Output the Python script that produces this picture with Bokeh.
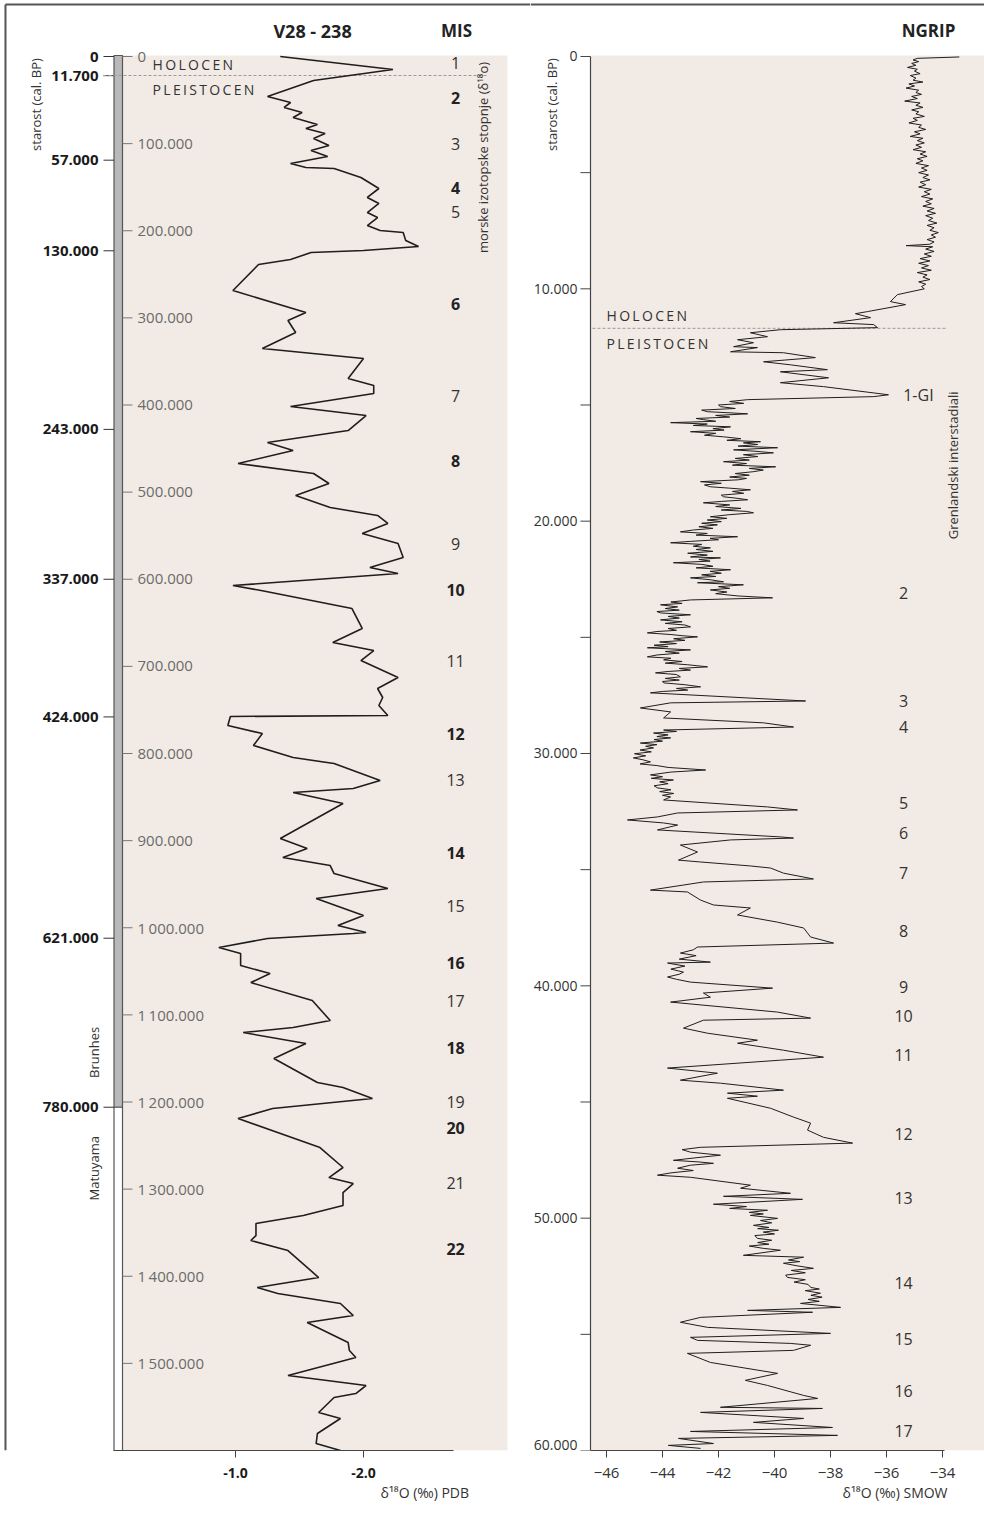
import math
from bokeh.plotting import figure
from bokeh.models import Range1d, FixedTicker, Title, NumeralTickFormatter
from bokeh.layouts import row
from bokeh.embed import file_html
from bokeh.resources import INLINE
from bokeh.core.properties import value

# ---------------- data: V28-238 (depth scale in thousands, delta18O PDB) ----------------
v28_depth_k = [0.0, 14.9, 27.5, 45.9, 52.8, 58.5, 64.3, 70.0, 78.1, 82.6, 88.4, 94.1, 102.2, 107.9,
               114.8, 122.8, 127.4, 128.6, 138.9, 151.5, 161.8, 168.7, 179.1, 184.8, 194.0, 199.7,
               202.0, 211.2, 218.1, 222.7, 225.0, 233.0, 238.7, 268.6, 293.8, 303.0, 316.8, 335.2,
               346.6, 369.6, 377.6, 386.8, 401.7, 412.1, 429.3, 443.1, 452.2, 467.2, 478.6, 490.1,
               503.9, 517.7, 526.8, 536.0, 547.5, 559.0, 575.0, 586.5, 593.4, 607.2, 612.9, 633.6,
               656.5, 672.6, 681.8, 693.3, 712.8, 725.4, 735.7, 744.9, 756.4, 757.5, 767.9, 777.1,
               790.8, 804.6, 811.5, 831.0, 840.2, 844.8, 857.4, 897.6, 909.1, 919.4, 928.6, 937.8,
               955.0, 966.4, 986.0, 997.4, 1005.5, 1006.6, 1012.4, 1022.7, 1029.6, 1043.4, 1052.5,
               1062.9, 1083.5, 1106.5, 1114.5, 1120.3, 1132.9, 1150.1, 1177.6, 1183.4, 1196.0,
               1207.5, 1219.0, 1252.3, 1275.2, 1286.7, 1293.6, 1303.9, 1318.8, 1330.3, 1339.5,
               1353.3, 1359.0, 1370.5, 1401.5, 1412.9, 1419.8, 1431.3, 1445.1, 1453.1, 1476.1,
               1485.3, 1493.3, 1514.0, 1525.4, 1534.6, 1539.2, 1556.4, 1563.3, 1580.5, 1592.0, 1600.0]
v28_d18o = [-1.35, -2.23, -1.61, -1.25, -1.43, -1.38, -1.52, -1.45, -1.64, -1.55, -1.70, -1.61, -1.73, -1.59,
            -1.72, -1.43, -1.55, -1.77, -1.98, -2.12, -2.03, -2.12, -2.03, -2.11, -2.03, -2.13,
            -2.31, -2.33, -2.43, -2.00, -1.59, -1.43, -1.18, -0.98, -1.55, -1.41, -1.47, -1.21,
            -2.00, -1.88, -2.08, -2.08, -1.43, -2.02, -1.88, -1.25, -1.45, -1.02, -1.61, -1.73,
            -1.47, -1.74, -2.11, -2.19, -1.99, -2.27, -2.31, -2.05, -2.27, -0.98, -1.20, -1.91,
            -1.99, -1.76, -2.08, -1.98, -2.27, -2.11, -2.15, -2.12, -2.19, -0.96, -0.94, -1.21,
            -1.14, -1.45, -1.77, -2.13, -1.92, -1.45, -1.84, -1.35, -1.56, -1.37, -1.74, -1.77,
            -2.19, -1.63, -2.00, -1.80, -2.02, -1.92, -1.25, -0.87, -1.04, -1.04, -1.27,
            -1.12, -1.60, -1.74, -1.45, -1.06, -1.55, -1.30, -1.64, -1.84, -2.07,
            -1.29, -1.02, -1.66, -1.84, -1.73, -1.92, -1.84, -1.84, -1.53, -1.16,
            -1.16, -1.12, -1.41, -1.65, -1.17, -1.33, -1.82, -1.92, -1.56, -1.88,
            -1.89, -1.94, -1.41, -2.02, -1.94, -1.77, -1.65, -1.82, -1.64, -1.63, -1.82]

mis_stage = list(range(1, 23))
mis_depth_k = [6.9, 48.2, 101.0, 150.4, 179.0, 283.5, 389.1, 463.7, 559.0, 612.9, 693.3, 777.1,
               829.9, 913.7, 974.5, 1039.9, 1083.5, 1137.5, 1199.5, 1230.4, 1292.4, 1368.2]

# age (cal. BP) markers placed on the depth scale
age_tick_depth_k = [0, 22, 119, 223, 428, 600, 758, 1012, 1206]
age_tick_labels = ["0", "11.700", "57.000", "130.000", "243.000", "337.000", "424.000", "621.000", "780.000"]
holocene_depth_k = 21.8
brunhes_end_depth_k = 1206
brunhes_mid_depth_k = 1143
matuyama_mid_depth_k = 1276

depth_ticks_k = [0, 100, 200, 300, 400, 500, 600, 700, 800, 900, 1000, 1100, 1200, 1300, 1400, 1500]
depth_tick_labels = ["0", "100.000", "200.000", "300.000", "400.000", "500.000", "600.000", "700.000",
                     "800.000", "900.000", "1\u2009000.000", "1\u2009100.000", "1\u2009200.000",
                     "1\u2009300.000", "1\u2009400.000", "1\u2009500.000"]
pdb_ticks = [-1.0, -2.0]

# ---------------- data: NGRIP (age in kyr, delta18O SMOW), read in segments ----------------
ngrip_holocene = [
    (0.02, -33.40), (0.08, -34.90), (0.15, -35.05), (0.22, -34.85), (0.30, -35.10), (0.38, -34.95),
    (0.47, -35.25), (0.55, -34.90), (0.63, -35.00), (0.74, -34.80), (0.82, -35.15), (0.93, -34.95),
    (1.02, -35.05), (1.10, -34.70), (1.18, -35.20), (1.27, -35.00), (1.36, -35.30), (1.45, -34.85),
    (1.55, -34.95), (1.63, -34.75), (1.72, -35.10), (1.81, -34.90), (1.92, -35.35), (2.00, -34.80),
    (2.10, -34.95), (2.19, -34.70), (2.30, -35.10), (2.38, -34.85), (2.47, -34.95), (2.58, -34.65),
    (2.66, -35.05), (2.75, -34.90), (2.86, -35.20), (2.95, -34.75), (3.05, -34.85), (3.14, -34.60),
    (3.24, -35.00), (3.33, -34.80), (3.44, -35.15), (3.52, -34.70), (3.62, -34.90), (3.72, -34.65),
    (3.81, -34.95), (3.91, -34.75), (4.01, -35.05), (4.10, -34.60), (4.20, -34.80), (4.30, -34.55),
    (4.40, -34.90), (4.49, -34.70), (4.60, -34.95), (4.70, -34.50), (4.80, -34.75), (4.90, -34.55),
    (5.00, -34.85), (5.10, -34.50), (5.21, -34.70), (5.31, -34.45), (5.41, -34.80), (5.52, -34.60),
    (5.62, -34.85), (5.72, -34.40), (5.82, -34.65), (5.92, -34.45), (6.03, -34.75), (6.13, -34.35),
    (6.24, -34.60), (6.34, -34.40), (6.44, -34.70), (6.54, -34.30), (6.65, -34.55), (6.75, -34.25),
    (6.85, -34.60), (6.96, -34.35), (7.06, -34.50), (7.17, -34.20), (7.27, -34.55), (7.37, -34.30),
    (7.48, -34.45), (7.58, -34.15), (7.68, -34.40), (7.78, -34.25), (7.88, -34.55), (7.98, -34.30),
    (8.08, -34.45), (8.14, -35.30), (8.19, -34.35), (8.29, -34.60), (8.39, -34.30), (8.50, -34.65),
    (8.60, -34.40), (8.70, -34.80), (8.80, -34.45), (8.90, -34.85), (9.00, -34.50), (9.10, -34.75),
    (9.20, -34.40), (9.30, -34.90), (9.40, -34.55), (9.50, -34.70), (9.60, -34.45), (9.70, -34.85),
    (9.80, -34.60), (9.90, -34.75), (10.00, -34.65)]
ngrip_deglacial = [
    (10.25, -35.61), (10.55, -35.86), (10.68, -35.32), (10.98, -36.68), (11.07, -37.11), (11.24, -36.57),
    (11.46, -37.89), (11.54, -36.46), (11.67, -36.32), (11.76, -39.79), (11.89, -40.86), (12.06, -40.25),
    (12.19, -41.32), (12.32, -40.75), (12.49, -41.46), (12.53, -40.61), (12.71, -41.57), (12.75, -39.68),
    (12.96, -38.54), (13.14, -40.39), (13.27, -39.43), (13.48, -38.11), (13.57, -39.79), (13.83, -38.07),
    (14.04, -39.79), (14.21, -38.25), (14.56, -35.93), (14.64, -36.46)]
ngrip_lgm = [
    (14.77, -40.96), (14.85, -41.60), (14.93, -41.10), (15.00, -42.00), (15.07, -41.93), (15.15, -41.40),
    (15.22, -42.60), (15.29, -42.39), (15.33, -41.70), (15.38, -40.96), (15.45, -42.10), (15.52, -41.60),
    (15.58, -42.80), (15.63, -42.54), (15.70, -42.10), (15.76, -43.71), (15.82, -42.40), (15.88, -42.90),
    (15.94, -41.57), (16.02, -42.20), (16.08, -41.80), (16.15, -43.00), (16.22, -42.10), (16.30, -42.50),
    (16.37, -41.82), (16.45, -41.20), (16.52, -41.70), (16.58, -40.50), (16.63, -41.11), (16.70, -40.60),
    (16.77, -41.30), (16.84, -39.89), (16.93, -41.46), (16.99, -40.70), (17.06, -40.04), (17.14, -41.11),
    (17.22, -40.60), (17.30, -41.40), (17.37, -40.90), (17.44, -41.82), (17.52, -41.00), (17.59, -41.50),
    (17.66, -39.96), (17.73, -40.90), (17.80, -40.40), (17.87, -40.75), (17.95, -41.40), (18.02, -40.90),
    (18.10, -41.60), (18.16, -41.00), (18.22, -41.29), (18.30, -42.64), (18.37, -41.90), (18.44, -42.50),
    (18.52, -42.29), (18.58, -41.60), (18.65, -40.86), (18.72, -41.50), (18.80, -41.10), (18.88, -41.90),
    (18.95, -41.82), (19.02, -41.30), (19.08, -40.96), (19.15, -41.90), (19.21, -42.54), (19.30, -41.60),
    (19.37, -42.10), (19.45, -41.20), (19.52, -41.90), (19.58, -41.00), (19.64, -40.75), (19.72, -41.60),
    (19.81, -42.29), (19.88, -41.70), (19.95, -42.40), (20.02, -41.90), (20.09, -42.60), (20.16, -42.04),
    (20.24, -42.70), (20.31, -42.20), (20.38, -42.90), (20.46, -43.36), (20.53, -42.40), (20.60, -42.80),
    (20.67, -41.32), (20.74, -42.30), (20.80, -42.00), (20.87, -43.00), (20.93, -43.71), (21.00, -42.60),
    (21.08, -42.90), (21.15, -42.29), (21.22, -42.80), (21.30, -42.20), (21.38, -43.10), (21.46, -42.40),
    (21.54, -43.00), (21.58, -41.93), (21.65, -42.70), (21.72, -42.30), (21.79, -43.61), (21.86, -42.60),
    (21.94, -42.20), (22.01, -42.80), (22.09, -41.57), (22.16, -42.30), (22.24, -41.90), (22.31, -42.60),
    (22.38, -42.10), (22.44, -43.00), (22.52, -42.30), (22.61, -41.82), (22.65, -42.75), (22.74, -41.11),
    (22.82, -42.00), (22.89, -41.60), (22.96, -42.29), (23.05, -41.70), (23.12, -42.10), (23.22, -41.30),
    (23.30, -40.07), (23.39, -43.00)]
ngrip_gs3 = [
    (23.48, -43.70), (23.54, -43.30), (23.60, -44.07), (23.69, -43.46), (23.76, -43.90), (23.83, -43.40),
    (23.89, -44.20), (23.95, -44.07), (24.03, -43.00), (24.10, -43.80), (24.17, -43.40), (24.25, -44.07),
    (24.33, -43.30), (24.40, -43.90), (24.47, -43.20), (24.55, -43.00), (24.62, -43.80), (24.70, -43.50),
    (24.75, -44.20), (24.81, -44.54), (24.88, -43.70), (24.93, -43.30), (24.98, -42.75), (25.06, -43.60),
    (25.13, -43.20), (25.20, -44.10), (25.27, -43.50), (25.34, -44.30), (25.40, -43.80), (25.45, -44.54),
    (25.54, -43.00), (25.61, -43.90), (25.68, -43.40), (25.76, -44.20), (25.84, -44.54), (25.90, -43.70),
    (25.97, -43.96), (26.04, -43.30), (26.11, -43.90), (26.18, -43.10), (26.27, -42.39), (26.34, -43.40),
    (26.41, -43.00), (26.47, -43.80), (26.53, -44.25), (26.60, -43.50), (26.70, -43.36), (26.77, -43.90),
    (26.84, -43.40), (26.90, -44.00), (26.96, -43.96), (27.04, -43.20), (27.13, -42.64), (27.20, -43.50),
    (27.27, -43.10), (27.33, -44.00), (27.39, -44.43)]
ngrip_gi3_gi5 = [
    (27.74, -38.89), (27.82, -43.71), (28.04, -44.79), (28.21, -43.71), (28.47, -43.96), (28.68, -40.39),
    (28.86, -39.32), (28.99, -43.96), (29.05, -43.50), (29.12, -44.32), (29.20, -43.80), (29.27, -44.20),
    (29.33, -43.71), (29.40, -44.30), (29.47, -44.00), (29.55, -44.79), (29.62, -44.20), (29.69, -44.60),
    (29.76, -44.32), (29.85, -44.80), (29.93, -44.40), (30.01, -45.00), (30.10, -44.60), (30.19, -45.04),
    (30.27, -44.70), (30.36, -44.43), (30.45, -44.80), (30.52, -44.20), (30.60, -43.80), (30.71, -42.46),
    (30.80, -43.70), (30.92, -44.43), (31.00, -44.00), (31.07, -44.40), (31.14, -43.61), (31.22, -44.10),
    (31.30, -43.80), (31.39, -44.30), (31.48, -44.18), (31.56, -43.70), (31.64, -44.10), (31.72, -43.60),
    (31.80, -44.00), (31.87, -43.71), (32.00, -43.96)]
ngrip_gi5_gi9 = [
    (32.30, -40.25), (32.43, -39.18), (32.56, -43.46), (32.73, -44.18), (32.86, -45.25), (32.99, -43.96),
    (33.08, -43.46), (33.29, -44.18), (33.59, -39.79), (33.64, -39.32), (33.72, -41.57), (33.94, -43.36),
    (34.24, -42.75), (34.59, -43.43), (34.67, -42.64), (34.84, -40.86), (34.93, -40.14), (35.15, -39.68),
    (35.40, -38.61), (35.53, -42.54), (35.88, -44.43), (35.96, -43.11), (36.31, -42.64), (36.52, -42.18),
    (36.65, -40.86), (36.95, -41.32), (37.26, -39.89), (37.51, -38.96), (37.90, -38.71), (38.16, -37.89),
    (38.33, -42.75), (38.45, -42.90), (38.59, -43.36), (38.70, -42.80), (38.85, -43.40), (38.98, -42.29),
    (39.02, -43.82), (39.15, -43.20), (39.28, -43.70), (39.41, -43.25), (39.50, -43.40), (39.62, -43.82),
    (39.72, -43.50), (39.84, -43.00)]
ngrip_gi9_gi13 = [
    (40.10, -40.07), (40.31, -42.54), (40.49, -42.29), (40.70, -43.71), (41.13, -39.89), (41.39, -38.71),
    (41.48, -42.54), (41.82, -43.25), (42.04, -42.39), (42.34, -40.61), (42.47, -41.32), (42.77, -39.68),
    (43.07, -38.25), (43.20, -39.79), (43.54, -43.82), (43.76, -42.04), (44.06, -43.36), (44.19, -41.93),
    (44.49, -39.68), (44.62, -41.68), (44.75, -40.61), (44.84, -41.68), (45.27, -40.14), (45.65, -39.32),
    (45.91, -38.71), (46.21, -38.82), (46.52, -38.25), (46.77, -37.21), (46.95, -42.64), (47.05, -43.30),
    (47.16, -43.00), (47.29, -41.93), (47.40, -42.80), (47.51, -43.61), (47.58, -42.70), (47.64, -42.18),
    (47.72, -43.00), (47.85, -43.46), (47.95, -42.90), (48.05, -43.70), (48.15, -44.18), (48.24, -43.00),
    (48.58, -40.86), (48.71, -41.21), (48.93, -39.43), (49.06, -41.82), (49.19, -39.00), (49.40, -42.18),
    (49.50, -41.00), (49.58, -41.60), (49.66, -40.25), (49.75, -40.90), (49.82, -40.40), (49.88, -40.86),
    (50.01, -39.89)]
ngrip_gi13_gi17 = [
    (50.10, -40.50), (50.20, -40.10), (50.31, -40.75), (50.40, -40.20), (50.45, -40.60), (50.52, -39.86),
    (50.60, -40.40), (50.68, -40.00), (50.75, -40.70), (50.87, -40.61), (50.95, -40.10), (51.05, -40.60),
    (51.12, -40.20), (51.20, -40.90), (51.30, -40.40), (51.38, -39.79), (51.60, -41.11), (51.68, -38.96),
    (51.80, -39.50), (51.87, -39.10), (51.94, -39.68), (52.05, -39.20), (52.16, -38.61), (52.25, -39.40),
    (52.35, -38.90), (52.45, -39.60), (52.55, -39.54), (52.65, -38.90), (52.75, -39.30), (52.85, -38.80),
    (52.98, -38.71), (53.05, -38.40), (53.12, -38.90), (53.23, -38.36), (53.32, -38.70), (53.40, -38.30),
    (53.50, -38.80), (53.58, -38.40), (53.67, -39.07), (53.84, -37.64), (53.97, -40.96), (54.05, -38.64),
    (54.27, -42.64), (54.48, -43.36), (54.70, -42.39), (54.96, -38.00), (55.13, -43.00), (55.26, -42.75),
    (55.39, -39.43), (55.47, -38.71), (55.69, -39.32), (55.82, -43.11), (56.21, -42.29), (56.68, -39.89),
    (56.98, -41.04), (57.20, -40.25), (57.63, -38.96), (57.76, -38.46), (58.14, -41.93), (58.19, -38.29),
    (58.36, -42.64), (58.62, -38.96), (58.79, -40.75), (59.01, -37.93), (59.18, -43.00), (59.35, -37.75),
    (59.48, -43.43), (59.70, -42.18), (59.78, -43.79), (59.91, -42.64)]
ngrip_segments = [ngrip_holocene, ngrip_deglacial, ngrip_lgm, ngrip_gs3, ngrip_gi3_gi5,
                  ngrip_gi5_gi9, ngrip_gi9_gi13, ngrip_gi13_gi17]
ngrip_age_k = [a for seg in ngrip_segments for a, _ in seg]
ngrip_d18o = [v for seg in ngrip_segments for _, v in seg]

gi_labels = ["1-GI", "2", "3", "4", "5", "6", "7", "8", "9", "10", "11", "12", "13", "14", "15", "16", "17"]
gi_age_k = [14.59, 23.11, 27.72, 28.84, 32.15, 33.44, 35.16, 37.66, 40.03, 41.28, 42.96, 46.36, 49.15,
            52.77, 55.22, 57.42, 59.14]
holocene_age_k = 11.7
age_ticks_k = [0, 10, 20, 30, 40, 50, 60]
age_minor_ticks_k = [5, 15, 25, 35, 45, 55]
age_tick_text = ["0", "10.000", "20.000", "30.000", "40.000", "50.000", "60.000"]
smow_ticks = [-46, -44, -42, -40, -38, -36, -34]

# ---------------- styling ----------------
FONT = "Open Sans"
BEIGE = "#f2eae5"
INK = "#1e1e1e"
AXC = "#444444"
HOL = "H\u2009O\u2009L\u2009O\u2009C\u2009E\u2009N"
PLE = "P\u2009L\u2009E\u2009I\u2009S\u2009T\u2009O\u2009C\u2009E\u2009N"
H = 1510


def base_fig(width, xr, yr):
    p = figure(width=width, height=H, x_range=xr, y_range=yr, output_backend="svg",
               toolbar_location=None, y_axis_location=None,
               min_border_left=0, min_border_right=0, min_border_top=0, min_border_bottom=60,
               background_fill_color="white", border_fill_color="white", outline_line_color=None)
    p.grid.visible = False
    xa = p.xaxis[0]
    xa.axis_line_color = AXC
    xa.axis_line_width = 1.2
    xa.major_tick_line_color = AXC
    xa.minor_tick_line_color = None
    xa.major_tick_in = 0
    xa.major_tick_out = 7
    xa.major_label_standoff = 10
    xa.major_label_text_font = FONT
    xa.major_label_text_font_size = "15px"
    xa.major_label_text_color = "#333"
    return p


def txt(p, x, y, t, size="14px", style="normal", align="center", angle=0.0, color="#222"):
    p.text(x=[x], y=[y], text=[t], text_font=value(FONT), text_font_size=size,
           text_font_style=style, text_align=align, text_baseline="middle", angle=angle,
           text_color=color)


def axis_title(p, t, offset):
    p.add_layout(Title(text=t, align="left", offset=offset, standoff=0, text_font=FONT,
                       text_font_size="14px", text_font_style="normal", text_color="#333"), "below")


# ======================= left panel: V28-238 =======================
pL = base_fig(530, Range1d(0.8359, -3.3047), Range1d(1600, -64.28))
xa = pL.xaxis[0]
xa.ticker = FixedTicker(ticks=pdb_ticks)
xa.formatter = NumeralTickFormatter(format="0.0")
xa.major_label_text_font_style = "bold"
xa.major_label_text_font_size = "14px"
xa.major_label_text_color = "#1a1a1a"
xa.bounds = (-2.703, -0.0469)

# outer border of the figure
pL.segment(x0=[0.797, 0.797], x1=[0.797, -3.3047], y0=[-59.7, -59.7], y1=[1600, -59.7],
           line_color="#555", line_width=2)

# beige plotting area
pL.quad(left=-0.1172, right=-3.125, top=-1.15, bottom=1600, fill_color=BEIGE, line_color=None)

# Brunhes / Matuyama bar
pL.quad(left=-0.0508, right=-0.1172, top=-1.15, bottom=brunhes_end_depth_k,
        fill_color="#b9b9b9", line_color="#555", line_width=1.2)
pL.quad(left=-0.0508, right=-0.1172, top=brunhes_end_depth_k, bottom=1600,
        fill_color="white", line_color="#555", line_width=1.2)

# outer age scale (cal. BP)
pL.segment(x0=0.0313, x1=-0.0508, y0=age_tick_depth_k, y1=age_tick_depth_k, line_color="#333", line_width=1)
pL.text(x=[0.0703] * len(age_tick_depth_k), y=age_tick_depth_k, text=age_tick_labels,
        text_font=value(FONT), text_font_size="15px", text_font_style="bold", text_color="#1a1a1a",
        text_align="right", text_baseline="middle")

# inner depth scale
pL.segment(x0=-0.1172, x1=-0.1953, y0=depth_ticks_k, y1=depth_ticks_k, line_color="#777", line_width=1)
pL.text(x=[-0.2344] * len(depth_ticks_k), y=depth_ticks_k, text=depth_tick_labels,
        text_font=value(FONT), text_font_size="15px", text_color="#6a6a6a",
        text_align="left", text_baseline="middle")

# Holocene boundary
pL.segment(x0=0.0313, x1=-2.969, y0=holocene_depth_k, y1=holocene_depth_k,
           line_color="#9a9a9a", line_dash="3 2", line_width=1)
pL.text(x=[-0.352, -0.352], y=[9.2, 37.9], text=[HOL, PLE], text_font=value(FONT),
        text_font_size="14px", text_color="#333", text_align="left", text_baseline="middle")

pL.line(v28_d18o, v28_depth_k, line_color=INK, line_width=1.6)

odd = [(s, d) for s, d in zip(mis_stage, mis_depth_k) if s % 2 == 1]
even = [(s, d) for s, d in zip(mis_stage, mis_depth_k) if s % 2 == 0]
pL.text(x=[-2.719] * len(odd), y=[d for _, d in odd], text=[str(s) for s, _ in odd],
        text_font=value(FONT), text_font_size="16px", text_color="#333",
        text_align="center", text_baseline="middle")
pL.text(x=[-2.719] * len(even), y=[d for _, d in even], text=[str(s) for s, _ in even],
        text_font=value(FONT), text_font_size="16px", text_font_style="bold", text_color="#222",
        text_align="center", text_baseline="middle")

txt(pL, -1.602, -29.8, "V28 - 238", size="18px", style="bold")
txt(pL, -2.727, -29.8, "MIS", size="17px", style="bold")
txt(pL, 0.5547, 55.1, "starost (cal. BP)", size="13px", angle=math.pi / 2, color="#333")
txt(pL, 0.109, brunhes_mid_depth_k, "Brunhes", size="13px", angle=math.pi / 2, color="#333")
txt(pL, 0.109, matuyama_mid_depth_k, "Matuyama", size="13px", angle=math.pi / 2, color="#333")
txt(pL, -2.9375, 115.9, "morske izotopske stopnje (\u03b4\u00b9\u2078o)", size="13px",
    angle=math.pi / 2, color="#333")
axis_title(pL, "\u03b4\u00b9\u2078O (\u2030) PDB", 380)

# ======================= right panel: NGRIP =======================
pR = base_fig(454, Range1d(-48.714, -32.5), Range1d(60, -2.410))
xa = pR.xaxis[0]
xa.ticker = FixedTicker(ticks=smow_ticks)
xa.bounds = (-46.571, -33.93)

pR.segment(x0=-48.714, x1=-32.5, y0=-2.238, y1=-2.238, line_color="#555", line_width=2)
pR.quad(left=-46.571, right=-32.5, top=-0.043, bottom=60, fill_color=BEIGE, line_color=None)

# age axis (cal. BP)
pR.segment(x0=-46.571, x1=-46.571, y0=0, y1=60, line_color=AXC, line_width=1.2)
pR.segment(x0=-46.929, x1=-46.571, y0=age_ticks_k, y1=age_ticks_k, line_color=AXC, line_width=1)
pR.segment(x0=-46.929, x1=-46.571, y0=age_minor_ticks_k, y1=age_minor_ticks_k, line_color=AXC, line_width=1)
label_shift = [0] * (len(age_ticks_k) - 1) + [-6]   # keep the last label inside the drawing area
pR.text(x=[-47.036] * len(age_ticks_k), y=age_ticks_k, text=age_tick_text, text_font=value(FONT),
        text_font_size="14px", text_color="#333", text_align="right", text_baseline="middle",
        y_offset=label_shift)

pR.segment(x0=-46.5, x1=-33.82, y0=holocene_age_k, y1=holocene_age_k,
           line_color="#9a9a9a", line_dash="3 2", line_width=1)
pR.text(x=[-46.0, -46.0], y=[11.15, 12.35], text=[HOL, PLE], text_font=value(FONT),
        text_font_size="14px", text_color="#333", text_align="left", text_baseline="middle")

pR.line(ngrip_d18o, ngrip_age_k, line_color=INK, line_width=1.0)

gi_x = [-34.86] + [-35.39] * (len(gi_labels) - 1)
pR.text(x=gi_x, y=gi_age_k, text=gi_labels, text_font=value(FONT), text_font_size="16px",
        text_color="#333", text_align="center", text_baseline="middle")

txt(pR, -34.5, -1.12, "NGRIP", size="17px", style="bold")
txt(pR, -47.93, 2.066, "starost (cal. BP)", size="13px", angle=math.pi / 2, color="#333")
txt(pR, -33.64, 17.6, "Grenlandski interstadiali", size="13px", angle=math.pi / 2, color="#333")
axis_title(pR, "\u03b4\u00b9\u2078O (\u2030) SMOW", 312)

layout = row(pL, pR)
open("out.html", "w").write(file_html(layout, INLINE))
